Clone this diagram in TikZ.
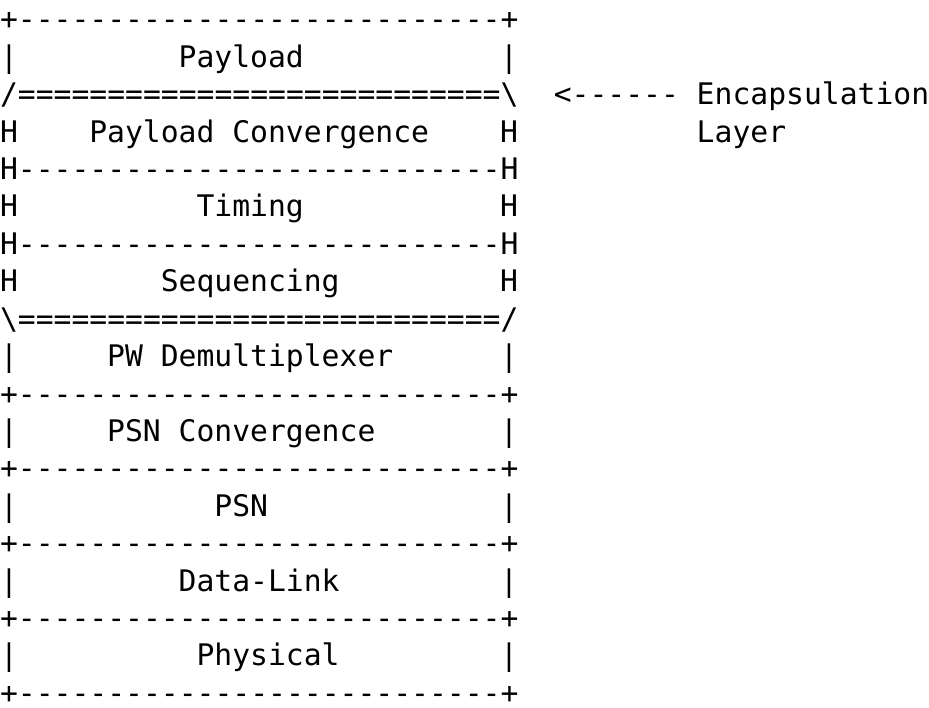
\documentclass[tikz,border=0pt]{standalone}
\usepackage{fontspec}
\setmonofont{DejaVu Sans Mono}

% character cell of the monospaced grid
\newcommand\cellw{17.865}
\newcommand\cellh{37.4}
\newcommand\firstbase{30}

\tikzset{
  glyphs/.style={anchor=base west, inner sep=0pt, outer sep=0pt,
    font=\ttfamily\fontsize{29.7}{36}\selectfont}
}

% \cell{name}{column}{row}{text}
\newcommand\cell[4]{%
  \node[glyphs] (#1) at ({#2*\cellw pt}, {-(\firstbase+(#3-1)*\cellh)*1pt}) {#4};}

\newcommand\rulerule{---------------------------}
\newcommand\eqrule{===========================}

\begin{document}
\begin{tikzpicture}
\useasboundingbox (0,0) rectangle (929pt,-708pt);

% payload
\cell{top}{0}{1}{+\rulerule+}
\cell{payL}{0}{2}{|}
\cell{payload}{10}{2}{Payload}
\cell{payR}{28}{2}{|}

% encapsulation layer
\cell{encTop}{0}{3}{/\eqrule\textbackslash}
\cell{encArrow}{31}{3}{<------}
\cell{encLabel}{39}{3}{Encapsulation}
\cell{pcL}{0}{4}{H}
\cell{pc}{5}{4}{Payload Convergence}
\cell{pcR}{28}{4}{H}
\cell{encLabelB}{39}{4}{Layer}
\cell{sepA}{0}{5}{H\rulerule H}
\cell{tmL}{0}{6}{H}
\cell{timing}{11}{6}{Timing}
\cell{tmR}{28}{6}{H}
\cell{sepB}{0}{7}{H\rulerule H}
\cell{sqL}{0}{8}{H}
\cell{seq}{9}{8}{Sequencing}
\cell{sqR}{28}{8}{H}
\cell{encBot}{0}{9}{\textbackslash\eqrule/}

% lower layers
\cell{pwL}{0}{10}{|}
\cell{pw}{6}{10}{PW Demultiplexer}
\cell{pwR}{28}{10}{|}
\cell{sepC}{0}{11}{+\rulerule+}
\cell{pscL}{0}{12}{|}
\cell{psc}{6}{12}{PSN Convergence}
\cell{pscR}{28}{12}{|}
\cell{sepD}{0}{13}{+\rulerule+}
\cell{psnL}{0}{14}{|}
\cell{psn}{12}{14}{PSN}
\cell{psnR}{28}{14}{|}
\cell{sepE}{0}{15}{+\rulerule+}
\cell{dlL}{0}{16}{|}
\cell{dl}{10}{16}{Data-Link}
\cell{dlR}{28}{16}{|}
\cell{sepF}{0}{17}{+\rulerule+}
\cell{phL}{0}{18}{|}
\cell{ph}{11}{18}{Physical}
\cell{phR}{28}{18}{|}
\cell{bottom}{0}{19}{+\rulerule+}
\end{tikzpicture}
\end{document}
